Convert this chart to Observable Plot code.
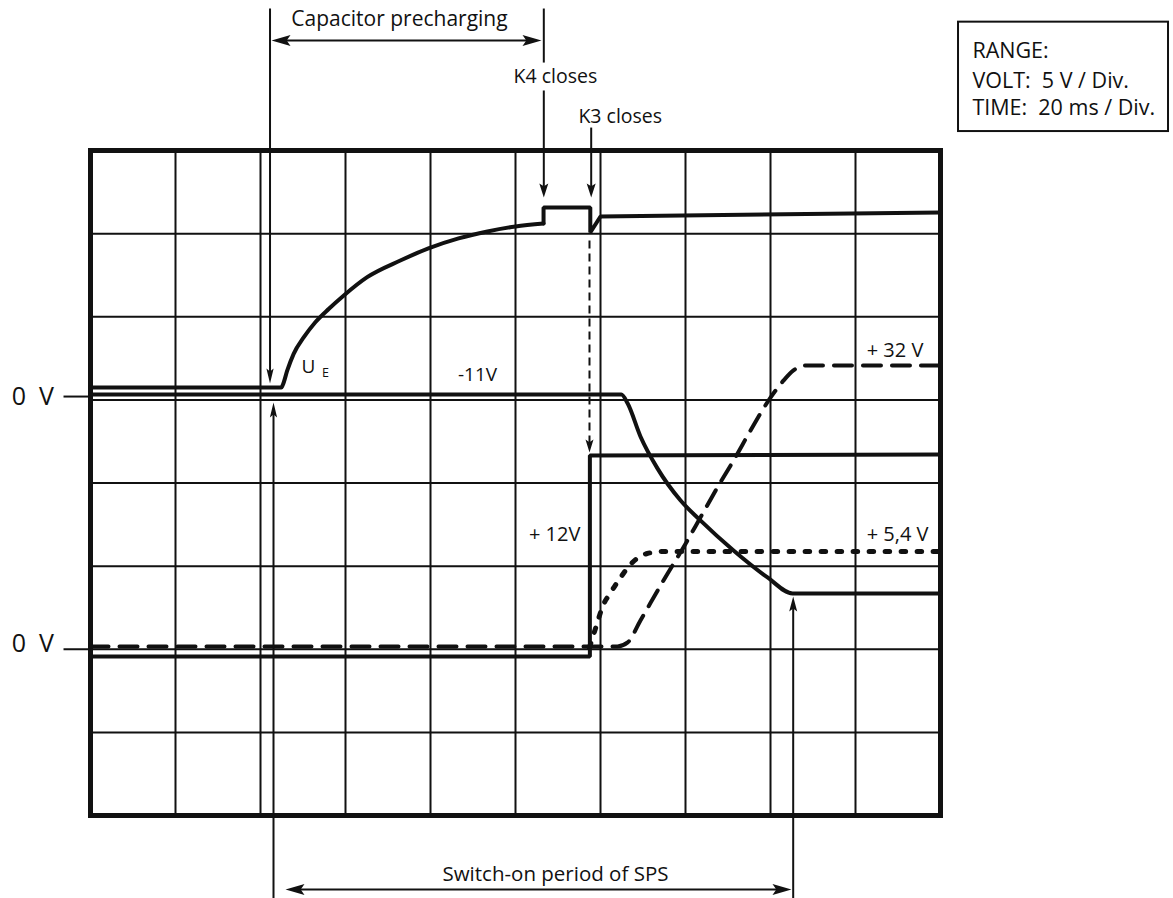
<!DOCTYPE html>
<html>
<head>
<meta charset="utf-8">
<script src="https://cdn.jsdelivr.net/npm/d3@7"></script>
<script src="https://cdn.jsdelivr.net/npm/@observablehq/plot@0.6"></script>
<style>
  html, body { margin: 0; padding: 0; background: #fff; }
  svg { display: block; }
  svg text { white-space: pre; }
</style>
</head>
<body>
<div id="chart"></div>
<script>
// ---- Screen: 20 ms / div (10 div), 5 V / div (8 div) ----
const timeTicks = d3.range(0, 201, 20);      // ms
const voltTicks = d3.range(-10, 31, 5);      // screen volts (lower channel 0 V = 0)
const upperZero = 15;                        // upper channel 0 V reference
const lowerZero = 0;                         // lower channel 0 V reference

// ---- Upper channel traces (volts relative to upper 0 V) ----
const ueTime = [0, 44.9, 45.2, 46.3, 47.8, 50.2, 52.9, 56.1, 59.6, 65.1, 72.9, 79.5, 86.6, 93.4, 100, 106.6, 106.6, 117.6, 117.6, 120, 200];
const ueVolt = [0.75, 0.75, 0.87, 1.77, 2.77, 3.77, 4.67, 5.48, 6.28, 7.38, 8.38, 9.11, 9.71, 10.13, 10.43, 10.61, 11.57, 11.57, 10.07, 11.03, 11.27];
const ueCurveEnd = 15; // index where the charging curve ends and the relay steps begin

const m11Time = [0, 124.9, 126.4, 129.4, 133.4, 138.8, 143.5, 151.3, 159.3, 165.2, 200];
const m11Volt = [0.32, 0.32, -0.22, -2.2, -4.12, -6.04, -7.25, -9.06, -10.68, -11.64, -11.64];

// ---- Lower channel traces (volts relative to lower 0 V) ----
const p12Time = [0, 117.5, 117.5, 200];
const p12Volt = [-0.44, -0.44, 11.65, 11.71];

const p32Time = [0, 124, 126.4, 129.4, 135.8, 139.5, 143.5, 147.5, 151.3, 155.3, 160, 163.1, 165.4, 168.2, 200];
const p32Volt = [0.17, 0.17, 0.41, 1.73, 4.56, 6.12, 7.92, 9.73, 11.35, 13.16, 15.14, 16.17, 16.77, 17.07, 17.07];

const p54Time = [117.4, 119.2, 120.4, 122.4, 124.7, 127.5, 131, 134.8, 200];
const p54Volt = [0.1, 1.55, 2.51, 3.41, 4.31, 5.22, 5.76, 5.88, 5.88];

// ---- Annotation anchors (time ms, screen volts) ----
const solidSegments = [
  {x1: 42.24, y1: 38.54, x2: 42.24, y2: 16.6},    // upper arrow to U_E start
  {x1: 43.06, y1: -14.99, x2: 43.06, y2: 14.2},   // lower arrow to U_E start
  {x1: 44.5, y1: 36.62, x2: 104.2, y2: 36.62},    // capacitor precharging
  {x1: 106.66, y1: 38.54, x2: 106.66, y2: 35.29}, // K4 line above text
  {x1: 106.66, y1: 33.61, x2: 106.66, y2: 27.7},  // K4 arrow
  {x1: 117.81, y1: 31.38, x2: 117.81, y2: 27.7},  // K3 arrow
  {x1: 165.34, y1: -14.99, x2: 165.34, y2: 2.6},  // end of switch-on
  {x1: 47.8, y1: -14.45, x2: 163.0, y2: -14.45}   // switch-on period
];
const dashedSegments = [
  {x1: 117.41, y1: 24.59, x2: 117.41, y2: 12.4}
];
const arrowHeads = [
  {t: 42.24, v: 15.98, dir: "down", len: 15, hw: 3.6},
  {t: 43.06, v: 14.84, dir: "up", len: 15, hw: 3.6},
  {t: 42.59, v: 36.62, dir: "left", len: 19, hw: 5.5},
  {t: 106.12, v: 36.62, dir: "right", len: 19, hw: 5.5},
  {t: 106.66, v: 27.17, dir: "down", len: 14, hw: 4.5},
  {t: 117.81, v: 27.17, dir: "down", len: 14, hw: 4.5},
  {t: 117.41, v: 11.83, dir: "down", len: 13, hw: 4},
  {t: 165.34, v: 3.17, dir: "up", len: 15, hw: 4},
  {t: 45.88, v: -14.45, dir: "left", len: 19, hw: 5.5},
  {t: 164.94, v: -14.45, dir: "right", len: 19, hw: 5.5}
];
const zeroTicks = [
  {x1: -6.35, x2: 0, y: upperZero + 0.2},
  {x1: -6.35, x2: 0, y: lowerZero + 0.0}
];
const zeroLabels = [
  {t: -8.6, v: upperZero + 0.2, text: "0  V"},
  {t: -8.6, v: lowerZero + 0.3, text: "0  V"}
];
const middleLabels = [
  {t: 72.7, v: 37.46, text: "Capacitor precharging", size: 21},
  {t: 109.4, v: 34.09, text: "K4 closes", size: 19.5},
  {t: 109.4, v: -13.91, text: "Switch-on period of SPS", size: 20.5},
  {t: 51.3, v: 16.59, text: "U", size: 19},
  {t: 55.3, v: 16.35, text: "E", size: 12.5},
  {t: 91.06, v: 16.11, text: "-11V", size: 19},
  {t: 109.2, v: 6.54, text: "+ 12V", size: 20},
  {t: 189.3, v: 17.55, text: "+ 32 V", size: 20},
  {t: 189.9, v: 6.54, text: "+ 5,4 V", size: 20}
];
const startLabels = [
  {t: 114.8, v: 31.68, text: "K3 closes", size: 19.5},
  {t: 207.5, v: 35.57, text: "RANGE:", size: 21.5},
  {t: 207.5, v: 33.77, text: "VOLT:  5 V / Div.", size: 21.5},
  {t: 207.5, v: 32.14, text: "TIME:  20 ms / Div.", size: 21.5}
];
const rangeBox = [{x1: 204.24, x2: 253.65, y1: 37.72, y2: 31.14}];

// ---- helpers ----
const series = (ts, vs, off) => ts.map((t, i) => ({t, v: vs[i] + off}));
const dirs = {down: [0, -1], up: [0, 1], left: [1, 0], right: [-1, 0]};
const headSymbol = (dir, len, hw) => {
  const [dx, dy] = dirs[dir];
  const px = -dy, py = dx;
  return {
    draw(ctx) {
      ctx.moveTo(0, 0);
      ctx.lineTo(dx * len + px * hw, dy * len + py * hw);
      ctx.lineTo(dx * len * 0.8, dy * len * 0.8);
      ctx.lineTo(dx * len - px * hw, dy * len - py * hw);
      ctx.closePath();
    }
  };
};

const ink = "#111";
const traceW = 4;
const ue = series(ueTime, ueVolt, upperZero);

const marks = [
  // grid
  Plot.ruleX(timeTicks.slice(1, -1), {y1: -10, y2: 30, stroke: ink, strokeWidth: 2}),
  Plot.ruleY(voltTicks.slice(1, -1), {x1: 0, x2: 200, stroke: ink, strokeWidth: 2}),
  Plot.frame({stroke: ink, strokeWidth: 5}),
  // traces
  Plot.line(ue.slice(0, ueCurveEnd + 1), {x: "t", y: "v", stroke: ink, strokeWidth: traceW, curve: "monotone-x"}),
  Plot.line(ue.slice(ueCurveEnd), {x: "t", y: "v", stroke: ink, strokeWidth: traceW, strokeLinejoin: "miter"}),
  Plot.line(series(m11Time, m11Volt, upperZero), {x: "t", y: "v", stroke: ink, strokeWidth: traceW, curve: "monotone-x"}),
  Plot.line(series(p12Time, p12Volt, lowerZero), {x: "t", y: "v", stroke: ink, strokeWidth: traceW, strokeLinejoin: "miter"}),
  Plot.line(series(p32Time, p32Volt, lowerZero), {x: "t", y: "v", stroke: ink, strokeWidth: traceW, strokeDasharray: "18 11", curve: "monotone-x"}),
  Plot.line(series(p54Time, p54Volt, lowerZero), {x: "t", y: "v", stroke: ink, strokeWidth: 5, strokeDasharray: "4.5 11.5", curve: "monotone-x"}),
  // annotations
  Plot.link(solidSegments, {x1: "x1", y1: "y1", x2: "x2", y2: "y2", stroke: ink, strokeWidth: 2}),
  Plot.link(dashedSegments, {x1: "x1", y1: "y1", x2: "x2", y2: "y2", stroke: ink, strokeWidth: 2, strokeDasharray: "8 5"}),
  ...arrowHeads.map(a => Plot.dot([a], {x: "t", y: "v", r: 5, symbol: headSymbol(a.dir, a.len, a.hw), fill: ink, stroke: "none"})),
  Plot.link(zeroTicks, {x1: "x1", x2: "x2", y1: "y", y2: "y", stroke: ink, strokeWidth: 2}),
  Plot.text(zeroLabels, {x: "t", y: "v", text: "text", fontSize: 25, textAnchor: "end", lineAnchor: "middle", fill: ink}),
  Plot.text(middleLabels, {x: "t", y: "v", text: "text", fontSize: "size", textAnchor: "middle", lineAnchor: "bottom", fill: ink}),
  Plot.text(startLabels, {x: "t", y: "v", text: "text", fontSize: "size", textAnchor: "start", lineAnchor: "bottom", fill: ink}),
  Plot.rect(rangeBox, {x1: "x1", x2: "x2", y1: "y1", y2: "y2", fill: "none", stroke: ink, strokeWidth: 2})
];

const chart = Plot.plot({
  width: 1173,
  height: 898,
  marginLeft: 90,
  marginRight: 233,
  marginTop: 150,
  marginBottom: 83,
  x: {domain: [0, 200], axis: null},
  y: {domain: [-10, 30], axis: null},
  style: {fontFamily: "'Open Sans', 'Noto Sans', sans-serif", background: "#fff", color: ink, overflow: "visible"},
  marks
});
document.getElementById("chart").appendChild(chart);
</script>
</body>
</html>
